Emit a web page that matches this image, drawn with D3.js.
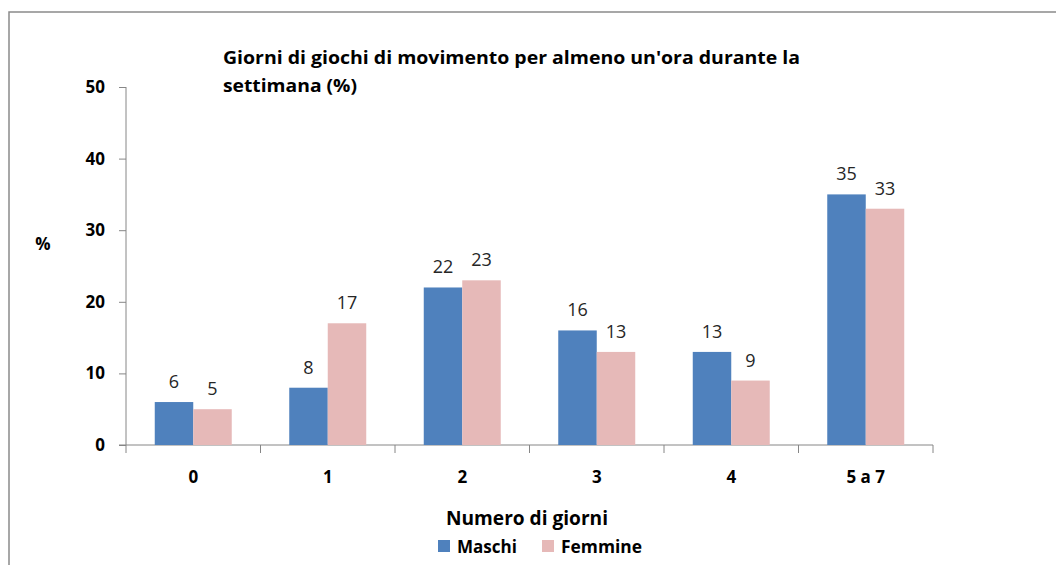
<!DOCTYPE html>
<meta charset='utf-8'>
<style>
	body { margin: 0; background: #fff; }
	text { font-family: "Open Sans", "Liberation Sans", sans-serif; fill: #000; }
	.bold { font-weight: bold; }
	.val { font-size: 18px; fill: #262626; }
	.axis path, .axis line { stroke: #868686; }
</style>
<div class="chart"></div>
<script src="https://d3js.org/d3.v7.min.js"></script>
<script>
	var categories = ["0", "1", "2", "3", "4", "5 a 7"];
	var series = ["Maschi", "Femmine"];
	var maschi = [6, 8, 22, 16, 13, 35];
	var femmine = [5, 17, 23, 13, 9, 33];
	var yTicks = [0, 10, 20, 30, 40, 50];
	var colors = ["#4F81BD", "#E6B9B8"];

	var width = 1056, height = 565;
	var svg = d3.select(".chart")
				.append("svg")
				.attr("width", width)
				.attr("height", height)
				.style("display", "block");

	// outer frame (only left + top visible in the picture)
	svg.append("rect")
		.attr("x", 9).attr("y", 12)
		.attr("width", 1200).attr("height", 700)
		.attr("fill", "none")
		.attr("stroke", "#8a8a8a")
		.attr("stroke-width", 1.5);

	var plotLeft = 126, plotRight = 933, plotTop = 87, plotBottom = 445;

	var x0 = d3.scaleBand().domain(categories).range([plotLeft, plotRight]);
	var x1 = d3.scaleBand().domain(series).range([0, x0.bandwidth()]).paddingOuter(0.747);
	var y = d3.scaleLinear().domain([0, 50]).range([plotBottom, plotTop]);

	// y axis
	var yAxis = svg.append("g")
		.attr("class", "axis")
		.attr("transform", "translate(" + plotLeft + ",0)")
		.call(d3.axisLeft(y).tickValues(yTicks).tickSize(7).tickPadding(14));
	yAxis.select(".domain").attr("d", "M0," + y(50) + "V" + y(0));
	yAxis.selectAll("text")
		.attr("class", "bold")
		.attr("fill", "#000")
		.style("font-size", "17px")
		.style("font-family", "Open Sans");

	// x axis with ticks at the band edges
	var xAxis = svg.append("g")
		.attr("class", "axis")
		.attr("transform", "translate(0," + plotBottom + ")");
	xAxis.append("line")
		.attr("x1", plotLeft - 7).attr("x2", plotRight)
		.attr("stroke", "#868686");
	xAxis.selectAll(".edge")
		.data(categories.concat(["end"]))
		.enter().append("line")
		.attr("class", "edge")
		.attr("x1", function(d, i) { return plotLeft + i * x0.step(); })
		.attr("x2", function(d, i) { return plotLeft + i * x0.step(); })
		.attr("y1", 0).attr("y2", 8)
		.attr("stroke", "#868686");
	xAxis.selectAll(".lbl")
		.data(categories)
		.enter().append("text")
		.attr("class", "lbl bold")
		.attr("x", function(d) { return x0(d) + x0.bandwidth() / 2; })
		.attr("y", 38)
		.attr("text-anchor", "middle")
		.style("font-size", "17px")
		.text(function(d) { return d; });

	// bars
	var rows = categories.map(function(c, i) {
		return { cat: c, values: [maschi[i], femmine[i]] };
	});
	var groups = svg.selectAll(".grp")
		.data(rows)
		.enter().append("g")
		.attr("class", "grp")
		.attr("transform", function(d) { return "translate(" + x0(d.cat) + ",0)"; });

	groups.selectAll("rect")
		.data(function(d) { return d.values.map(function(v, j) { return { s: series[j], v: v, j: j }; }); })
		.enter().append("rect")
		.attr("x", function(d) { return x1(d.s); })
		.attr("y", function(d) { return y(d.v); })
		.attr("width", x1.bandwidth())
		.attr("height", function(d) { return plotBottom - y(d.v); })
		.attr("fill", function(d) { return colors[d.j]; });

	groups.selectAll(".val")
		.data(function(d) { return d.values.map(function(v, j) { return { s: series[j], v: v, j: j }; }); })
		.enter().append("text")
		.attr("class", "val")
		.attr("x", function(d) { return x1(d.s) + x1.bandwidth() / 2; })
		.attr("y", function(d) { return y(d.v) - 14; })
		.attr("text-anchor", "middle")
		.text(function(d) { return d.v; });

	// title
	svg.append("text")
		.attr("class", "bold")
		.attr("x", 223).attr("y", 64)
		.style("font-size", "18px")
		.attr("textLength", 577)
		.attr("lengthAdjust", "spacingAndGlyphs")
		.text("Giorni di giochi di movimento per almeno un'ora durante la");
	svg.append("text")
		.attr("class", "bold")
		.attr("x", 223).attr("y", 92)
		.style("font-size", "18px")
		.attr("textLength", 134)
		.attr("lengthAdjust", "spacingAndGlyphs")
		.text("settimana (%)");

	// y axis title
	svg.append("text")
		.attr("class", "bold")
		.attr("x", 43).attr("y", 250)
		.attr("text-anchor", "middle")
		.style("font-size", "17px")
		.text("%");

	// x axis title
	svg.append("text")
		.attr("class", "bold")
		.attr("x", 527).attr("y", 525)
		.attr("text-anchor", "middle")
		.style("font-size", "19px")
		.attr("textLength", 162)
		.attr("lengthAdjust", "spacingAndGlyphs")
		.text("Numero di giorni");

	// legend
	var legendX = [438, 542];
	var legendW = [60, 81];
	var legend = svg.selectAll(".leg")
		.data(series)
		.enter().append("g")
		.attr("class", "leg")
		.attr("transform", function(d, i) { return "translate(" + legendX[i] + ",540)"; });
	legend.append("rect")
		.attr("width", 12).attr("height", 12)
		.attr("fill", function(d, i) { return colors[i]; });
	legend.append("text")
		.attr("class", "bold")
		.attr("x", 19).attr("y", 12.5)
		.style("font-size", "17px")
		.attr("textLength", function(d, i) { return legendW[i]; })
		.attr("lengthAdjust", "spacingAndGlyphs")
		.text(function(d) { return d; });
</script>
